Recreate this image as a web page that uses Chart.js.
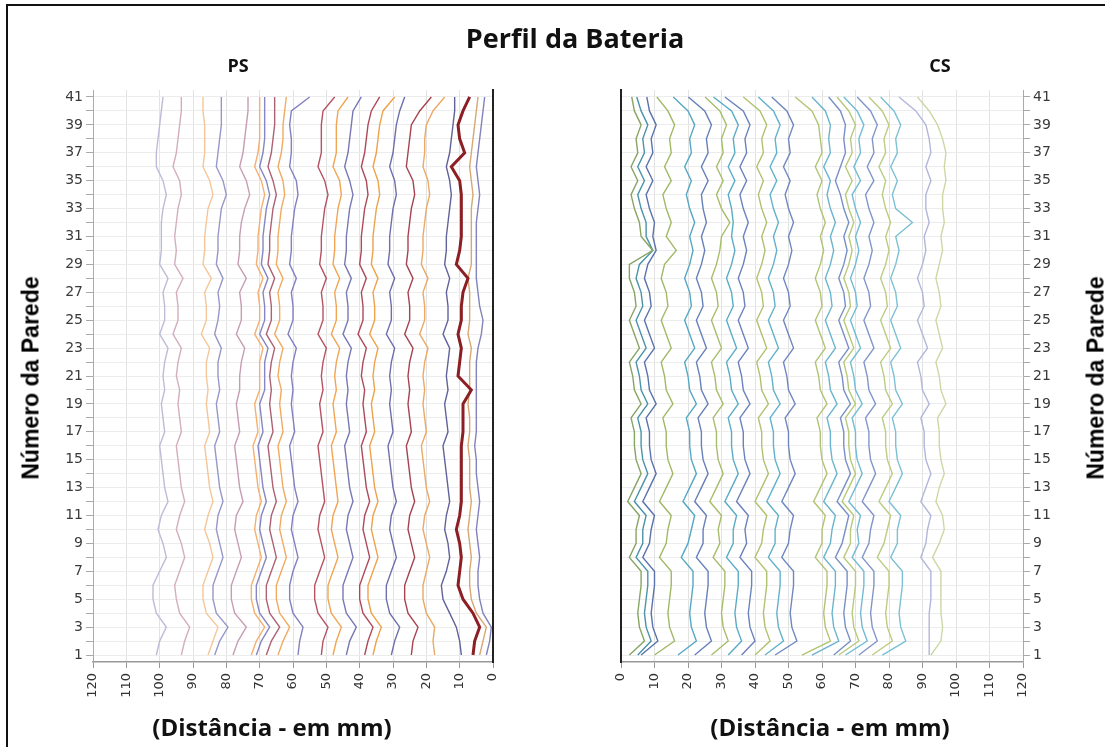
<!DOCTYPE html>
<html>
<head>
<meta charset="utf-8">
<script src="https://cdn.jsdelivr.net/npm/chart.js@4.4.0/dist/chart.umd.min.js"></script>
<style>
  body { margin: 0; background: #fff; }
  #page { position: relative; width: 1105px; height: 747px; overflow: hidden; background: #fff; }
  #frame { position: absolute; left: 6px; top: 4px; width: 1200px; height: 900px; border-left: 2px solid #111; border-top: 2px solid #111; }
  canvas { position: absolute; top: 0; }
  .txt { position: absolute; font-family: 'Open Sans', sans-serif; font-weight: bold; color: #111; white-space: nowrap; transform: translate(-50%, -50%); }
  .ytitle { position: absolute; font-family: 'Liberation Sans', Arial, sans-serif; font-weight: bold; font-size: 23px; color: #000; white-space: nowrap; transform: translate(-50%, -50%) rotate(-90deg); }
</style>
</head>
<body>
<div id="page">
  <div id="frame"></div>
  <canvas id="psChart" width="552" height="747" style="left:0px"></canvas>
  <canvas id="csChart" width="553" height="747" style="left:552px"></canvas>
  <div class="txt" style="left:575px; top:37px; font-size:27px;">Perfil da Bateria</div>
  <div class="txt" style="left:238px; top:65px; font-size:18px;">PS</div>
  <div class="txt" style="left:940px; top:65px; font-size:18px;">CS</div>
  <div class="txt" style="left:272px; top:726px; font-size:24px;">(Distância - em mm)</div>
  <div class="txt" style="left:830px; top:726px; font-size:24px;">(Distância - em mm)</div>
  <div class="ytitle" style="left:31px; top:378px;">Número da Parede</div>
  <div class="ytitle" style="left:1096px; top:378px;">Número da Parede</div>
</div>
<script>
// wall numbers (y) and distance ticks (x)
const walls = [1,2,3,4,5,6,7,8,9,10,11,12,13,14,15,16,17,18,19,20,21,22,23,24,25,26,27,28,29,30,31,32,33,34,35,36,37,38,39,40,41];
const xTicks = [0,10,20,30,40,50,60,70,80,90,100,110,120];

// PS side profiles, one value per wall (mm)
const psLines = [
  [101,100,98,101,102,102,100,98,99,100.5,99.5,97.5,98.5,99,99.5,100,98.5,99,99.5,98.5,99,98.5,97.5,100,98.5,98.5,99,97.5,100,99.5,99.5,99.5,99,98,99,101,101,100.5,100,99.5,99],
  [93.5,92.5,91,94,95,95.5,94,92.5,93.5,95,94,92.5,93.5,94,94.5,95,93.5,94,94.5,94,95,94.5,93.5,96,94.5,94.5,95,93,95.5,95,95.5,95,94.5,93.5,94,96,95,94.5,94,93.5,93.5],
  [85.5,84,82.5,86,87,87,85.5,84,85,86.5,85.5,84,85,85.5,86,86.5,85,85.5,86,85.5,86,86,85,87.5,86,86,86.5,84.5,87,86.5,86.5,86,85.5,84,85,87,86.5,86.5,86.5,87,87],
  [83.5,82,79.5,83,84,84,82.5,81,82,83,82.5,81,82,82.5,83,83.5,82,82.5,83,82,82.5,82.5,81.5,83.5,82.5,82,82.5,81,83,82.5,82.5,82,81.5,80,81,83,82.5,82,81.5,81.5,81.5],
  [78,76.5,74,77.5,78.5,78.5,77,75.5,76.5,77.5,77,75,76,76.5,77,77.5,76,76.5,77,76,76,75.5,74.5,77,75.5,75.5,76,74,76.5,76,76,75.5,74.5,73,74,76,75,74.5,74,73.5,73.5],
  [72.5,71,68.5,71.5,72.5,72.5,71,69.5,70.5,71.5,71,69.5,70.5,71,71.5,72,70.5,71,71.5,70,70,70,69,71.5,70,70,70.5,69,71,70.5,70.5,70,69.5,68.5,69.5,71.5,70.5,70,70,70,70],
  [71,69.5,67,70,71,71,69.5,68,69,70,69.5,68,69,69.5,70,70.5,69,69.5,70,68.5,68.5,68.5,67.5,70,68.5,68.5,69,67.5,69.5,69,69,68.5,68,67,68,70,69,68.5,68.5,68.5,68.5],
  [68,66.5,64,67,68,68,66.5,65,66,67,66.5,65,66,66.5,67,67.5,66,66.5,67,66.5,67,66.5,65.5,68,66.5,66.5,67,65.5,67.5,67,67,66.5,66,65,66,67.5,66.5,66,65.5,65.5,65.5],
  [64.5,63,61,64,65,65,63.5,62,63,64,63.5,62,63,63.5,64,64.5,63,63.5,64,63.5,64.5,64,63,65.5,64,64,64.5,63,65,64.5,64.5,64,63.5,62.5,63,64.5,63.5,63,63,62.5,62],
  [58.5,58,57,60,61,61,60,58.5,59.5,60.5,60,58.5,59.5,60,60.5,61,59.5,60,60.5,60,60.5,60,59,61.5,60,60,60.5,59,61,60.5,60.5,60,59.5,58.5,59,61,60.5,60.5,61,60.5,55],
  [51.5,51,49.5,52.5,53.5,53.5,52,50.5,51.5,52.5,52,50.5,51,51.5,52,52.5,51,51.5,52,51,51.5,51,50,52.5,51,51,51.5,50,52,51.5,51.5,51,50.5,49.5,50.5,52.5,51.5,51.5,51.5,51,47.5],
  [48,47,45.5,48.5,49.5,49.5,48,46.5,47.5,48.5,48,46.5,47,47.5,48,48.5,47,47.5,48,47,47.5,47,46,48.5,47,47,47.5,46,48,47.5,47.5,47,46.5,45.5,46,48,47,47,47,46.5,43.5],
  [44,43,41,44,45,45,43.5,42,43,44,43.5,42,43,43.5,44,44.5,43,43.5,44,43.5,44,43.5,42.5,45,43.5,43.5,44,42.5,44.5,44,44,43.5,43,42,43,44.5,43.5,43,42.5,42,39.5],
  [38.5,37.5,36,39,40,40,38.5,37,38,39,38.5,37,38,38.5,39,39.5,38,38.5,39,38.5,39.5,39,38,40.5,39,39,39.5,38,40,39.5,39.5,39,38.5,37.5,38,39.5,38.5,38,37.5,36.5,34],
  [36,35,33.5,36.5,37.5,37.5,36,34.5,35.5,36.5,36,34.5,35.5,36,36.5,37,35.5,36,36.5,35.5,36,35.5,34.5,37,35.5,35.5,36,34.5,36.5,36,36,35.5,35,34,34.5,36,35,34.5,34,33,29.5],
  [30.5,29.5,28,31,32,32,30.5,29,30,31,30.5,29,30,30.5,31,31.5,30,30.5,31,30.5,31,30.5,29.5,32,30.5,30.5,31,29.5,31.5,31,31,30.5,30,29,29.5,31,30,29.5,29,28,26.5],
  [24.5,24,22.5,25.5,26.5,26.5,25,23.5,24.5,25.5,25,23.5,24.5,25,25.5,26,24.5,25,25.5,25,25.5,25,24,26.5,25,25,25.5,24,26,25.5,25.5,25,24.5,23.5,24,26,25.5,25,24.5,22,18.5],
  [17.5,18,17.5,20,21,21,20,19,20,21,20.5,19,20,20.5,21,21.5,20,20.5,21,20.5,21,20.5,19.5,22,20.5,20.5,21,19.5,21.5,21,21,20.5,20,19,19.5,21,20.5,20.5,20,18,14.5],
  [9.5,10,11,13,15,15.5,14,13,13.5,14.5,14,13,13.5,14,14.5,15,13.5,14,14.5,13.5,14,13.5,13,15,13.5,13.5,14,13,14.5,14,14,13.5,13,12.5,13,14,13,12.5,12,11.5,11.5],
  [6,5.5,4,6,9,10.5,10,9.5,10,11,10,9.5,9.5,9.5,9.5,9.5,9,9,9,6.5,10.5,10,9.5,10.5,9.5,9.5,9,7.5,11,10,9.5,9.5,9.5,9.5,10,12.5,8.5,10,10.5,9,7],
  [4,3,2,5,6.5,7,7,6.5,7,7.5,7,6.5,7,7,7,7.5,7,7,7.5,7,7,7,6.5,7.5,7,7,7,7.5,6.5,6.5,6.5,6.5,6.5,6,6.5,7,6.5,6,5.5,5,4.5],
  [2,1,0.5,3,4,4.5,4.5,4,4.5,5,4.5,4,4.5,5,5,5.5,5,5,5,5,5,5,4.5,3.5,3,4,4.5,5,5,5,5,5,4.5,4,4.5,5,4.5,4,3.5,3,2.5]
];
const psColors = ['#bcbcd8','#d4adbe','#f5c697','#9797c9','#c69db3','#f3b070','#8686c2','#ad6274','#f2aa5f','#8280c0','#b55363',
  '#f1a552','#7878b5','#ad4a58','#eea249','#6f6fab','#a5434f','#eba964','#62629b','#8c1f24','#d8a773','#8282bc'];
const psWidths = [1.4,1.4,1.4,1.4,1.4,1.4,1.4,1.4,1.4,1.4,1.4,1.4,1.4,1.4,1.4,1.4,1.4,1.4,1.4,3,1.4,1.4];

// CS side profiles
const csLines = [
  [2.5,7,5.5,5,5.5,6,6,2.5,4.5,4.5,5.5,2,4,6,4.5,4,4,3,6,4,3.5,2.5,5.5,4,2.5,4.5,4,2.5,2.5,9.5,6,5.5,4,3,5,3,5,4.5,6,4,3.2],
  [5,9,7.5,7,7.5,8,8,4.5,6.5,6.5,7.5,4,6,8,6.5,6,6,5,8,6,5.5,4.5,7.5,6,4.5,6.5,6,4.5,5.5,9.5,7.5,7.5,6,5,7,5,7,6.5,8,6,4.7],
  [6,11,9.5,9,9.5,10,10,6.5,8.5,9,10,6.5,8.5,10.5,9,8.5,8.5,7.5,10.5,8.5,8,7,10,8.5,7,9,8.5,7,8,10.5,9.5,10,8.5,7.5,9.5,7.5,9.5,9,10.5,8.5,7.7],
  [10,16,14.5,14,14.5,15,15,11.5,13.5,14,15,11.5,13.5,15.5,14,13.5,13.5,12.5,15.5,13.5,13,12,15,13.5,12,14,13.5,12,13,16.5,13.5,15,13.5,12.5,15,13,15,14.5,16,14,10.7],
  [17,22.5,21,20.5,21,21.5,21.5,18,20,21,22,18.5,20.5,22.5,21,20.5,20.5,19.5,22.5,20.5,20,19,22,20.5,19,21,20.5,19,20.5,21.5,20.5,22,20.5,19.5,21,19,21,20.5,22,20,15.6],
  [22,27,25.5,25,25.5,26,26,22.5,24.5,24.5,25.5,22,24,26,24.5,24,24,23,26,24,23.5,22.5,25.5,24,22.5,24.5,24,22.5,24,25,24,25.5,24.5,24,26,24,26,25.5,27,25,20.1],
  [27,32,30.5,30,30.5,31,31,27.5,29.5,29,30,26.5,28.5,30.5,29,28.5,28.5,27.5,30.5,28.5,28,27,30,28.5,27,29,28.5,27,28.5,29.5,30,32.5,30,28.5,30.5,28.5,30.5,30,31.5,29.5,25.1],
  [32,36,34.5,34,34.5,35,35,31.5,33.5,33.5,34.5,31,33,35,33.5,33,33,32,35,33,32.5,31.5,34.5,33,31.5,33.5,33,31.5,33,34,33,33.5,33,32,34,32,34,33.5,35,33,27.6],
  [36,40,38.5,38,38.5,39,39,35.5,37.5,37,38,34.5,36.5,38.5,37,36.5,36.5,35.5,38.5,36.5,36,35,38,36.5,35,37,36.5,35,36.5,37.5,36.5,38,36.5,35.5,37.5,35.5,37.5,37,38.5,36.5,31],
  [40,44.5,43,42.5,43,43.5,43.5,40,42,42.5,43.5,40,42,44,42.5,42,42,41,44,42,41.5,40.5,43.5,42,40.5,42.5,42,40.5,42,43,42,43.5,42,41,42.5,40.5,42.5,42,43.5,41.5,36.5],
  [43,48.5,47,46.5,47,47.5,47.5,44,46,46,47,43.5,45.5,47.5,46,45.5,45.5,44.5,47.5,45.5,45,44,47,45.5,44,46,45.5,44,45.5,46.5,45.5,47,45.5,44.5,46.5,44.5,46.5,46,47.5,45.5,41],
  [46,52.5,51,50.5,51,51.5,51.5,48,50,50.5,51.5,48,50,52,50.5,50,50,49,52,50,49.5,48.5,51.5,50,48.5,50.5,50,48.5,50,51,50,51.5,50,49,50.5,48.5,50.5,50,51.5,49.5,45],
  [54,62.5,61,60.5,61,61.5,61.5,58,60,60,61,57.5,59.5,61.5,60,59.5,59.5,58.5,61.5,59.5,59,58,61,59.5,58,60,59.5,58,59.5,60.5,59.5,61,59.5,58.5,60,58,60,59.5,59,57,52],
  [57,65,63.5,63,63.5,64,64,60.5,62.5,63,64,60.5,62.5,64.5,63,62.5,62.5,61.5,64.5,62.5,62,61,64,62.5,61,63,62.5,61,62.5,63.5,62.5,64,62.5,61.5,62.5,60.5,62.5,62,62.5,61,57],
  [63.5,68.5,67,66.5,67,67.5,67.5,64,66,67,68,64.5,66.5,68.5,67,66.5,66.5,65.5,68.5,66.5,66,65,68,66.5,65,67,66.5,65,66.5,67.5,66.5,68,66.5,65.5,64,65.5,67,66.5,67,65.5,62],
  [65,71,69.5,69,69.5,70,70,66.5,68.5,68.5,69.5,66,68,70,68.5,68,68,67,70,68,67.5,66.5,69.5,68,66.5,68.5,68,66.5,68,69,68,69.5,68,67,69,67,69,68.5,70,68,64.5],
  [67,73.5,72,71.5,72,72.5,72.5,69,71,70.5,71.5,68,70,72,70.5,70,70,69,72,70,69.5,68.5,71.5,70,68.5,70.5,70,68.5,70,71,70,71.5,70,69,71.5,69.5,71.5,71,72.5,70.5,66.5],
  [71,76.5,75,74.5,75,75.5,75.5,72,74,74.5,75.5,72,74,76,74.5,74,74,73,76,74,73.5,72.5,75.5,74,72.5,74.5,74,72.5,74,75,74,75.5,74,73,75.5,73.5,75.5,75,76.5,74.5,70.5],
  [75,81,79.5,79,79.5,80,80,76.5,78.5,79.5,80.5,77,79,81,79.5,79,79,78,81,79,78.5,77.5,80.5,79,77.5,79.5,79,77.5,79,80,79,80.5,79,78,79,77,79,78.5,80,78,74],
  [78,85,83.5,83,83.5,84,84,80.5,82.5,82.5,83.5,80,82,84,82.5,82,82,81,84,82,81.5,80.5,83.5,82,80.5,82.5,82,80.5,82,83,82,87,82,81,82.5,80.5,82.5,82,83.5,81.5,77.5],
  [92,92,92,92,92.5,92.5,92.5,89.5,91,91.5,92.5,89.5,91,92.5,91,90.5,90.5,89.5,92,90,89.5,88.5,91.5,90,88.5,90.5,90,88.5,90,91,90.5,92,91,91,92.5,91,92.5,92,91,88,83],
  [92.5,95.5,96,95.5,95.5,95.5,95.5,93,95,96.5,96,94,95,96.5,95.5,95,95,94.5,97,95.5,95,94,96,95,94,95.5,95,94,95,96,95.5,96.5,96,96,97,96.5,97,96,94.5,92,88.5]
];
const csColors = ['#87a463','#4a93a9','#5a73ad','#a1b866','#55a7c3','#6680b9','#a8bd6b','#5aacc6','#6a82bd','#aec26f','#62b1cb',
  '#6f87c0','#b1c472','#6ab5cd','#7990c5','#b8c97a','#72bbd1','#8096c9','#bccc80','#7cc0d4','#b1b6da','#ccd8a4'];

function makeDatasets(lines, colors, widths) {
  return lines.map((vals, i) => ({
    data: vals.map((v, j) => ({ x: v, y: walls[j] })),
    borderColor: colors[i],
    borderWidth: widths ? widths[i] : 1.4,
    showLine: true,
    pointRadius: 0,
    tension: 0,
    fill: false
  }));
}

function xScale(reverse) {
  return {
    type: 'linear', min: 0, max: 120, reverse: reverse,
    afterBuildTicks: s => { s.ticks = xTicks.map(v => ({ value: v })); },
    ticks: { autoSkip: false, maxRotation: 90, minRotation: 90, color: '#333', font: { family: 'DejaVu Sans', size: 13 }, padding: 5 },
    grid: { color: '#e2e2e2', tickColor: '#999', tickLength: 6 },
    border: { color: '#999', width: 1.5 },
    afterFit: s => { s.height = 85; }
  };
}

function yScale(position, width) {
  return {
    type: 'linear', position: position, min: 0.5, max: 41.5,
    afterBuildTicks: s => { s.ticks = walls.map(v => ({ value: v })); },
    ticks: { autoSkip: false, color: '#3a3a3a', font: { family: 'DejaVu Sans', size: 14 }, padding: 3,
      callback: v => (v % 2 ? String(v) : '') },
    grid: { color: '#ececec', tickColor: '#aaa', tickLength: 7 },
    border: { color: '#aaa', width: 1 },
    afterFit: s => { s.width = width; }
  };
}

function edgeScale(position) {
  return {
    type: 'linear', position: position, min: 0.5, max: 41.5,
    ticks: { display: false },
    grid: { drawOnChartArea: false, drawTicks: false },
    border: { color: '#222', width: 2 },
    afterFit: s => { s.width = 0; }
  };
}

function baseOptions(padding, scales) {
  return {
    responsive: false,
    animation: false,
    layout: { padding: padding },
    plugins: { legend: { display: false }, tooltip: { enabled: false } },
    scales: scales
  };
}

new Chart(document.getElementById('psChart'), {
  type: 'scatter',
  data: { datasets: makeDatasets(psLines, psColors, psWidths) },
  options: baseOptions({ top: 90, right: 59, left: 0, bottom: 0 }, {
    x: xScale(true),
    y: yScale('left', 93),
    yEdge: edgeScale('right')
  })
});

new Chart(document.getElementById('csChart'), {
  type: 'scatter',
  data: { datasets: makeDatasets(csLines, csColors, null) },
  options: baseOptions({ top: 90, right: 0, left: 69, bottom: 0 }, {
    x: xScale(false),
    y: yScale('right', 82),
    yEdge: edgeScale('left')
  })
});
</script>
</body>
</html>
